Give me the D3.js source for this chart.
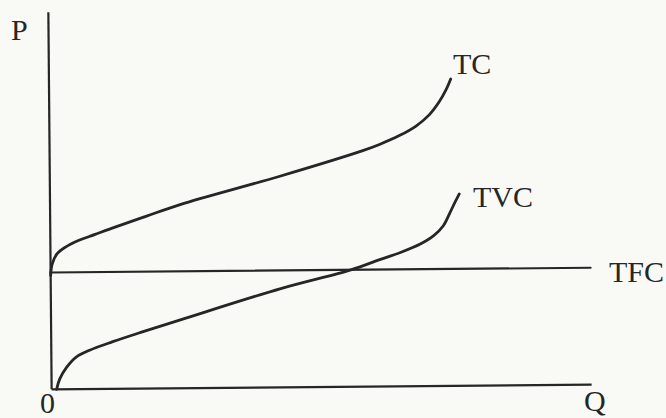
<!DOCTYPE html>
<html>
<head>
<meta charset="utf-8">
<script src="https://cdn.jsdelivr.net/npm/d3@7/dist/d3.min.js"></script>
<style>
  html, body { margin: 0; padding: 0; background: #f9faf5; }
  .chart { width: 666px; height: 418px; }
  .lbl { font-family: "Liberation Serif", "DejaVu Serif", serif; font-size: 30px; fill: #262626; }
</style>
</head>
<body>
<div class="chart"></div>
<script>
// Cost curves: TC, TVC, TFC (quantity Q vs cost P, arbitrary units 0-100)

var tcQ   = [0, 0.3, 1.2, 2.8, 5.2, 8.3, 12, 17.6, 24.1, 42.6, 58, 61.1, 64.8, 67.9, 70.4, 72.2, 73.5, 74.4];
var tcP   = [30.2, 33.2, 35.9, 37.7, 39.4, 41.0, 42.9, 45.6, 48.7, 56.0, 62.6, 64.2, 66.5, 69.0, 72.0, 75.3, 78.5, 81.4];

var tvcQ  = [0.93, 1.5, 2.8, 4.6, 7.1, 11.4, 16.4, 24.1, 42.6, 55.6, 61.1, 64.8, 68.5, 71.0, 72.8, 74.1, 75.0, 75.8];
var tvcP  = [0, 2.7, 5.8, 8.5, 10.3, 12.5, 14.8, 18.2, 26.2, 31.0, 33.7, 35.5, 37.7, 39.9, 42.5, 46.1, 48.7, 50.9];

var tfcQ  = [0, 100];
var tfcP  = [31, 31];

var svgWidth = 666;
var svgHeight = 418;

var svg = d3.select(".chart")
  .append("svg")
  .attr("width", svgWidth)
  .attr("height", svgHeight);

svg.append("rect")
  .attr("width", svgWidth)
  .attr("height", svgHeight)
  .attr("fill", "#f9faf5");

// scanned page is tilted a touch
var chart = svg.append("g")
  .attr("transform", "rotate(-0.5, 320, 200)");

var x = d3.scaleLinear().domain([0, 100]).range([50, 590]);
var y = d3.scaleLinear().domain([0, 100]).range([387, 10]);

var line = d3.line()
  .x(function(d) { return x(d[0]); })
  .y(function(d) { return y(d[1]); })
  .curve(d3.curveCatmullRom.alpha(0.5));

function pairs(qs, ps) {
  return qs.map(function(q, i) { return [q, ps[i]]; });
}

// axes (no ticks)
var axisStyle = { stroke: "#262626", width: 2.2 };
chart.append("line")
  .attr("x1", x(0)).attr("x2", x(0))
  .attr("y1", y(0)).attr("y2", y(100))
  .attr("stroke", axisStyle.stroke)
  .attr("stroke-width", axisStyle.width);

chart.append("line")
  .attr("x1", x(0)).attr("x2", x(100))
  .attr("y1", y(0)).attr("y2", y(0))
  .attr("stroke", axisStyle.stroke)
  .attr("stroke-width", axisStyle.width);

// curves
var series = [
  { name: "TFC", data: pairs(tfcQ, tfcP), w: 2.2 },
  { name: "TC", data: pairs(tcQ, tcP), w: 2.8 },
  { name: "TVC", data: pairs(tvcQ, tvcP), w: 2.8 }
];

chart.selectAll("path.curve")
  .data(series)
  .enter().append("path")
    .attr("class", "curve")
    .attr("d", function(d) { return line(d.data); })
    .attr("fill", "none")
    .attr("stroke", "#262626")
    .attr("stroke-width", function(d) { return d.w; })
    .attr("stroke-linecap", "round");

// labels
var labels = [
  { t: "P", x: 11, y: 40 },
  { t: "0", x: 40, y: 413 },
  { t: "Q", x: 584, y: 411 },
  { t: "TC", x: 453, y: 74 },
  { t: "TVC", x: 473, y: 207 },
  { t: "TFC", x: 609, y: 282 }
];

svg.selectAll("text.lbl")
  .data(labels)
  .enter().append("text")
    .attr("class", "lbl")
    .attr("x", function(d) { return d.x; })
    .attr("y", function(d) { return d.y; })
    .text(function(d) { return d.t; });
</script>
</body>
</html>
